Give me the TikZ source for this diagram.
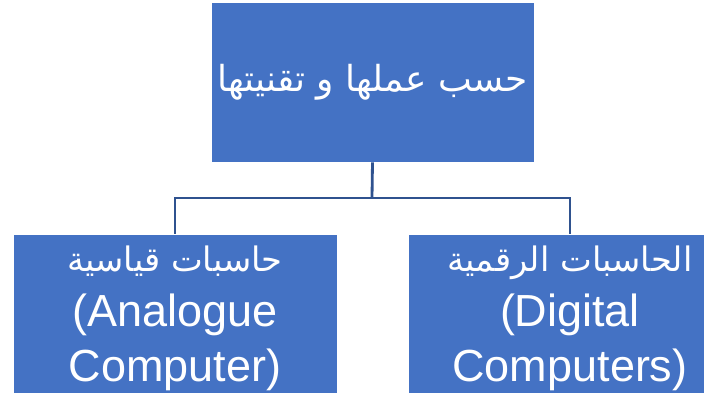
\documentclass[tikz,border=0pt]{standalone}
\usepackage{fontspec}
\setmainfont{Liberation Sans}
\newfontfamily\arabicfont[Script=Arabic]{DejaVu Sans}
\TeXXeTstate=1
\usepackage{xcolor}
\definecolor{boxblue}{HTML}{4472C4}
\definecolor{lineblue}{HTML}{2F528F}
\usetikzlibrary{positioning,calc}

\begin{document}
\begin{tikzpicture}[
    box/.style={fill=boxblue, draw=white, line width=0.4pt, inner sep=0pt},
    boxtext/.style={text=white, align=center, font=\fontsize{32}{39}\selectfont},
    conn/.style={draw=lineblue, line width=2pt}
]
    \useasboundingbox (0,0) rectangle (17.825,9.9);

    % Top box
    \node[box, boxtext, minimum width=8.075cm, minimum height=4cm] (top) at (9.3125,7.85)
        {{\arabicfont\fontsize{25.5}{40}\selectfont\beginR حسب عملها و تقنيتها\endR}};

    % Bottom boxes
    \node[box, minimum width=8.1cm, minimum height=3.975cm] (analog) at (4.375,2.0625) {};
    \node[boxtext] (analogtext) at (4.375,1.94)
        {{\arabicfont\fontsize{24}{39}\selectfont\beginR حاسبات قياسية\endR}\\(Analogue\\Computer)};
    \node[box, minimum width=7.4cm, minimum height=3.975cm] (digital) at (13.9,2.0625) {};
    \node[boxtext] (digitaltext) at (14.25,1.94)
        {{\arabicfont\fontsize{24}{39}\selectfont\beginR الحاسبات الرقمية\endR}\\(Digital\\Computers)};

    % Connectors
    \coordinate (fork) at (9.3,4.95);
    \draw[conn] (top.south) -- (fork);
    \draw[conn] (analog.north) |- (fork) -| (digital.north -| digitaltext);
\end{tikzpicture}
\end{document}
